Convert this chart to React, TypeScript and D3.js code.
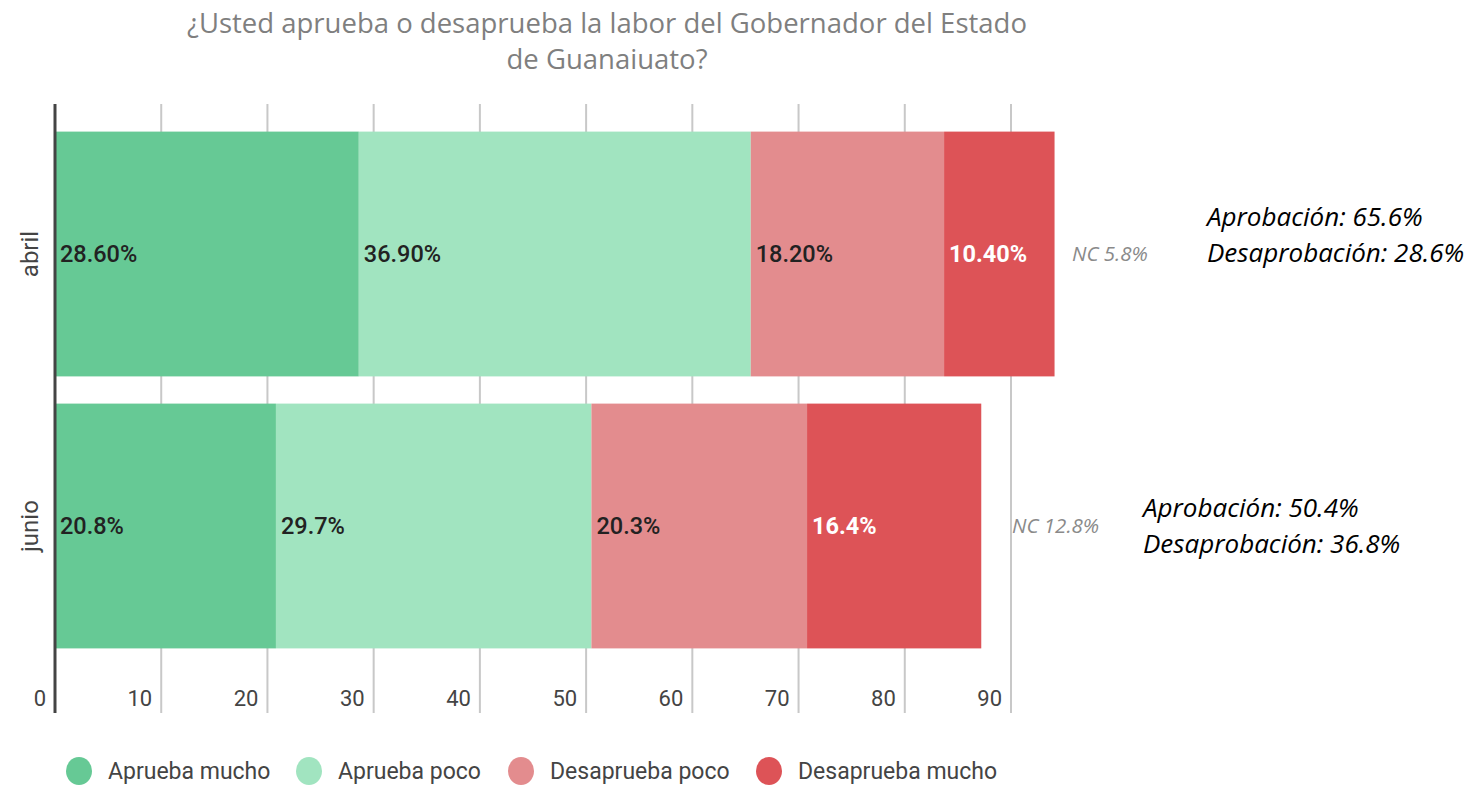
import * as d3 from 'd3'

const months = ['abril', 'junio']
const seriesNames = ['Aprueba mucho', 'Aprueba poco', 'Desaprueba poco', 'Desaprueba mucho']
const seriesColors = ['#66c995', '#a1e4c0', '#e38c8e', '#dd5357']
const apruebaMucho = [28.6, 20.8]
const apruebaPoco = [36.9, 29.7]
const desapruebaPoco = [18.2, 20.3]
const desapruebaMucho = [10.4, 16.4]
const barLabels = [
  ['28.60%', '36.90%', '18.20%', '10.40%'],
  ['20.8%', '29.7%', '20.3%', '16.4%'],
]
const ncLabels = ['NC 5.8%', 'NC 12.8%']
const aprobacion = ['Aprobación: 65.6%', 'Aprobación: 50.4%']
const desaprobacion = ['Desaprobación: 28.6%', 'Desaprobación: 36.8%']
const xTicks = [0, 10, 20, 30, 40, 50, 60, 70, 80, 90]

export default function App() {
  const width = 1481
  const height = 786

  const x = d3.scaleLinear().domain([0, 90]).range([55, 1011])
  const y = d3
    .scaleBand<string>()
    .domain(months)
    .range([118, 662])
    .paddingInner(0.1)
    .paddingOuter(0.05)

  const rows = months.map((m, i) => ({
    month: m,
    values: [apruebaMucho[i], apruebaPoco[i], desapruebaPoco[i], desapruebaMucho[i]],
  }))
  const stacked = rows.map(r => {
    let acc = 0
    return r.values.map(v => {
      const s = acc
      acc += v
      return [s, acc]
    })
  })

  // NC label and annotation block placement per month
  const ncX = [1072, 1012]
  const annX = [1207, 1143]
  const annY = [-28, -9]

  const legendX = [79, 309, 521, 769]

  return (
    <div style={{ position: 'absolute', left: 0, top: 0 }}>
      <svg width={width} height={height} style={{ display: 'block', background: '#fff' }}>
        {/* Title */}
        <text
          x={607}
          y={33}
          textAnchor="middle"
          fill="#7f7f7f"
          style={{ fontFamily: 'Open Sans', fontSize: 27.5 }}
        >
          ¿Usted aprueba o desaprueba la labor del Gobernador del Estado
        </text>
        <text
          x={607}
          y={69}
          textAnchor="middle"
          fill="#7f7f7f"
          style={{ fontFamily: 'Open Sans', fontSize: 27.5 }}
        >
          de Guanaiuato?
        </text>

        {/* Grid */}
        {xTicks.slice(1).map(t => (
          <line key={t} x1={x(t)} x2={x(t)} y1={104} y2={713} stroke="#c8c8c8" strokeWidth={2} />
        ))}

        {/* Bars */}
        {stacked.map((segs, i) => (
          <g key={months[i]}>
            {segs.map(([s, e], j) => (
              <rect
                key={j}
                x={x(s)}
                y={y(months[i])!}
                width={x(e) - x(s)}
                height={y.bandwidth()}
                fill={seriesColors[j]}
              />
            ))}
            {segs.map(([s], j) => (
              <text
                key={'l' + j}
                x={x(s) + 5}
                y={y(months[i])! + y.bandwidth() / 2}
                dy="0.35em"
                fill={j === 3 ? '#ffffff' : '#222222'}
                style={{ fontFamily: 'Roboto', fontSize: 23.5, fontWeight: j === 3 ? 700 : 500 }}
              >
                {barLabels[i][j]}
              </text>
            ))}
            <text
              x={30}
              y={y(months[i])! + y.bandwidth() / 2}
              transform={`rotate(-90, 30, ${y(months[i])! + y.bandwidth() / 2})`}
              textAnchor="middle"
              dy="0.35em"
              fill="#444"
              style={{ fontFamily: 'Roboto', fontSize: 24 }}
            >
              {months[i]}
            </text>
            <text
              x={ncX[i]}
              y={y(months[i])! + y.bandwidth() / 2}
              dy="0.35em"
              fill="#8a8a8a"
              style={{ fontFamily: 'Open Sans', fontSize: 20.5, fontStyle: 'italic' }}
            >
              {ncLabels[i]}
            </text>
            <text
              x={annX[i]}
              y={y(months[i])! + y.bandwidth() / 2 + annY[i]}
              fill="#000"
              style={{ fontFamily: 'Open Sans', fontSize: 26, fontStyle: 'italic' }}
            >
              <tspan x={annX[i]} dy="0">{aprobacion[i]}</tspan>
              <tspan x={annX[i]} dy="36">{desaprobacion[i]}</tspan>
            </text>
          </g>
        ))}

        {/* Axis line */}
        <line x1={x(0)} x2={x(0)} y1={104} y2={713} stroke="#444" strokeWidth={3} />

        {/* Tick labels */}
        {xTicks.map(t => (
          <text
            key={t}
            x={x(t) - 9}
            y={706}
            textAnchor="end"
            fill="#444"
            style={{ fontFamily: 'Roboto', fontSize: 22, fontWeight: 400 }}
          >
            {t}
          </text>
        ))}

        {/* Legend */}
        {seriesNames.map((n, i) => (
          <g key={n}>
            <ellipse cx={legendX[i]} cy={771} rx={13} ry={14} fill={seriesColors[i]} />
            <text
              x={legendX[i] + 29}
              y={771}
              dy="0.35em"
              fill="#444"
              style={{ fontFamily: 'Roboto', fontSize: 23 }}
            >
              {n}
            </text>
          </g>
        ))}
      </svg>
    </div>
  )
}
